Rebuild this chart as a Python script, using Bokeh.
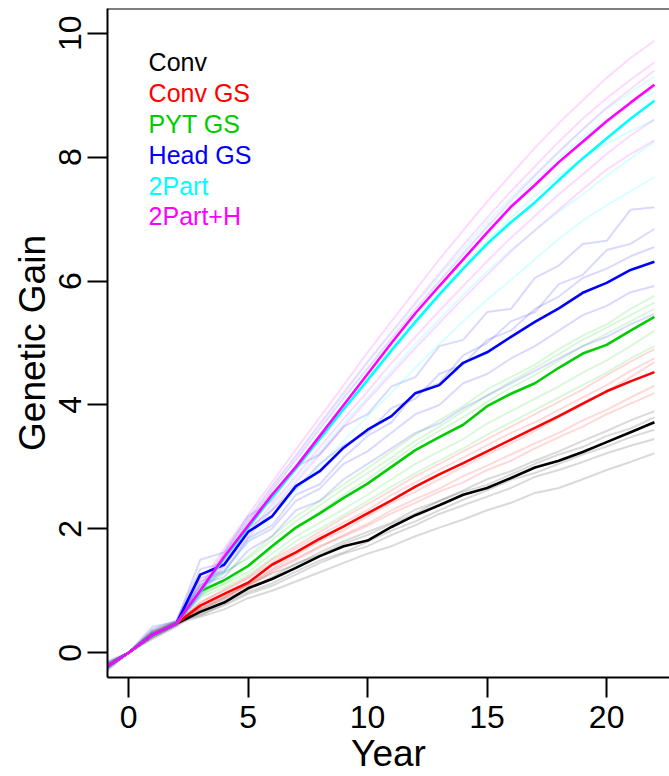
from bokeh.plotting import figure
from bokeh.models import Range1d, FixedTicker, Span, Label
from bokeh.embed import file_html
from bokeh.resources import INLINE

# Simulated breeding programs: mean genetic gain per year plus individual replicates
years = list(range(-1, 23))

programs = ["Conv", "Conv GS", "PYT GS", "Head GS", "2Part", "2Part+H"]
colors = ["#000000", "#FF0000", "#00CD00", "#0000FF", "#00FFFF", "#FF00FF"]

conv_mean = [-0.25, 0, 0.29, 0.47, 0.66, 0.81, 1.04, 1.19, 1.37, 1.56, 1.72, 1.81,
             2.03, 2.22, 2.38, 2.55, 2.66, 2.82, 2.99, 3.10, 3.24, 3.40, 3.56, 3.72]
conv_gs_mean = [-0.25, 0, 0.29, 0.47, 0.76, 0.95, 1.13, 1.42, 1.62, 1.84, 2.04, 2.25,
                2.46, 2.68, 2.88, 3.06, 3.25, 3.44, 3.63, 3.82, 4.02, 4.22, 4.38, 4.53]
pyt_gs_mean = [-0.25, 0, 0.29, 0.47, 0.99, 1.17, 1.40, 1.72, 2.02, 2.25, 2.50, 2.73,
               3.00, 3.27, 3.48, 3.68, 3.98, 4.18, 4.35, 4.60, 4.83, 4.97, 5.20, 5.42]
head_gs_mean = [-0.25, 0, 0.29, 0.47, 1.26, 1.42, 1.95, 2.20, 2.69, 2.93, 3.31, 3.60,
                3.82, 4.19, 4.32, 4.68, 4.85, 5.10, 5.34, 5.56, 5.81, 5.97, 6.18, 6.31]
two_part_mean = [-0.25, 0, 0.29, 0.47, 0.98, 1.52, 2.02, 2.51, 2.97, 3.45, 3.93, 4.40,
                 4.88, 5.34, 5.78, 6.20, 6.60, 6.95, 7.27, 7.63, 7.98, 8.30, 8.62, 8.91]
two_part_h_mean = [-0.25, 0, 0.29, 0.47, 1.00, 1.55, 2.05, 2.55, 3.00, 3.50, 4.00, 4.50,
                   5.00, 5.48, 5.92, 6.35, 6.78, 7.20, 7.55, 7.92, 8.25, 8.58, 8.88, 9.17]

conv_reps = [
    [-0.18, 0, 0.33, 0.49, 0.62, 0.76, 0.95, 1.08, 1.26, 1.45, 1.60, 1.72, 1.90, 2.06, 2.24, 2.38, 2.52, 2.66, 2.84, 2.95, 3.08, 3.22, 3.34, 3.45],
    [-0.30, 0, 0.25, 0.44, 0.70, 0.88, 1.10, 1.28, 1.42, 1.62, 1.80, 1.95, 2.10, 2.31, 2.45, 2.62, 2.80, 2.93, 3.10, 3.25, 3.42, 3.58, 3.75, 3.90],
    [-0.22, 0, 0.36, 0.50, 0.60, 0.79, 0.98, 1.12, 1.31, 1.49, 1.62, 1.79, 1.97, 2.12, 2.30, 2.47, 2.62, 2.79, 2.90, 3.05, 3.20, 3.33, 3.48, 3.60],
    [-0.27, 0, 0.22, 0.42, 0.68, 0.85, 1.02, 1.22, 1.44, 1.58, 1.76, 1.90, 2.08, 2.25, 2.45, 2.60, 2.71, 2.88, 3.05, 3.20, 3.32, 3.50, 3.62, 3.80],
    [-0.20, 0, 0.30, 0.47, 0.58, 0.70, 0.88, 1.00, 1.15, 1.30, 1.45, 1.60, 1.72, 1.88, 2.02, 2.15, 2.30, 2.42, 2.58, 2.66, 2.80, 2.95, 3.08, 3.22],
]
conv_gs_reps = [
    [-0.22, 0, 0.31, 0.48, 0.80, 1.02, 1.22, 1.50, 1.72, 1.95, 2.18, 2.40, 2.62, 2.85, 3.05, 3.25, 3.45, 3.65, 3.85, 4.05, 4.25, 4.48, 4.70, 4.90],
    [-0.28, 0, 0.27, 0.46, 0.72, 0.90, 1.10, 1.35, 1.58, 1.80, 1.98, 2.20, 2.42, 2.60, 2.80, 3.00, 3.20, 3.38, 3.58, 3.80, 4.00, 4.22, 4.45, 4.69],
    [-0.20, 0, 0.33, 0.50, 0.70, 0.88, 1.05, 1.30, 1.50, 1.70, 1.90, 2.08, 2.30, 2.48, 2.65, 2.85, 3.02, 3.20, 3.38, 3.55, 3.75, 3.92, 4.12, 4.31],
    [-0.26, 0, 0.24, 0.45, 0.74, 0.92, 1.08, 1.33, 1.52, 1.72, 1.88, 2.05, 2.25, 2.42, 2.60, 2.75, 2.95, 3.10, 3.30, 3.48, 3.65, 3.85, 4.02, 4.19],
    [-0.24, 0, 0.30, 0.47, 0.82, 1.00, 1.20, 1.45, 1.68, 1.90, 2.10, 2.30, 2.55, 2.75, 2.95, 3.15, 3.35, 3.55, 3.72, 3.92, 4.12, 4.32, 4.55, 4.75],
]
pyt_gs_reps = [
    [-0.20, 0, 0.32, 0.49, 1.05, 1.28, 1.55, 1.88, 2.20, 2.45, 2.72, 2.98, 3.25, 3.52, 3.75, 3.98, 4.25, 4.45, 4.65, 4.90, 5.12, 5.30, 5.55, 5.76],
    [-0.27, 0, 0.26, 0.45, 0.92, 1.12, 1.38, 1.70, 2.00, 2.28, 2.55, 2.80, 3.08, 3.35, 3.58, 3.80, 4.05, 4.28, 4.48, 4.72, 4.95, 5.15, 5.35, 5.55],
    [-0.23, 0, 0.31, 0.48, 0.95, 1.10, 1.30, 1.60, 1.88, 2.10, 2.32, 2.55, 2.80, 3.05, 3.25, 3.45, 3.70, 3.90, 4.10, 4.30, 4.52, 4.72, 4.95, 5.20],
    [-0.30, 0, 0.25, 0.46, 0.90, 1.05, 1.25, 1.52, 1.80, 2.00, 2.22, 2.45, 2.68, 2.90, 3.10, 3.30, 3.52, 3.72, 3.92, 4.12, 4.32, 4.52, 4.75, 4.95],
    [-0.21, 0, 0.34, 0.50, 1.08, 1.30, 1.52, 1.82, 2.12, 2.38, 2.65, 2.90, 3.15, 3.42, 3.65, 3.90, 4.15, 4.38, 4.60, 4.82, 5.05, 5.25, 5.45, 5.65],
]
head_gs_reps = [
    [-0.15, 0, 0.42, 0.50, 1.50, 1.62, 2.20, 2.45, 3.00, 3.20, 3.65, 3.85, 4.30, 4.45, 4.95, 5.05, 5.50, 5.55, 6.05, 6.25, 6.60, 6.65, 7.15, 7.19],
    [-0.33, 0, 0.25, 0.44, 1.15, 1.30, 1.85, 2.05, 2.55, 2.72, 3.15, 3.50, 3.72, 4.20, 4.35, 4.80, 5.00, 5.35, 5.50, 5.95, 6.10, 6.50, 6.60, 6.84],
    [-0.20, 0, 0.38, 0.52, 1.35, 1.45, 2.00, 2.30, 2.65, 3.05, 3.35, 3.55, 3.95, 4.10, 4.50, 4.65, 5.05, 5.20, 5.55, 5.75, 6.05, 6.20, 6.40, 6.55],
    [-0.28, 0, 0.30, 0.45, 1.20, 1.32, 1.80, 2.00, 2.45, 2.65, 3.05, 3.25, 3.55, 3.85, 4.00, 4.35, 4.50, 4.75, 4.95, 5.20, 5.45, 5.60, 5.82, 5.92],
    [-0.24, 0, 0.34, 0.48, 1.10, 1.22, 1.65, 1.88, 2.30, 2.45, 2.80, 3.05, 3.30, 3.55, 3.70, 3.95, 4.15, 4.35, 4.55, 4.75, 4.95, 5.10, 5.30, 5.47],
]
two_part_reps = [
    [-0.22, 0, 0.30, 0.48, 1.05, 1.62, 2.15, 2.68, 3.18, 3.68, 4.18, 4.68, 5.15, 5.62, 6.08, 6.52, 6.95, 7.35, 7.72, 8.10, 8.45, 8.78, 9.05, 9.30],
    [-0.26, 0, 0.27, 0.46, 0.92, 1.42, 1.88, 2.35, 2.80, 3.25, 3.70, 4.12, 4.55, 4.98, 5.38, 5.78, 6.15, 6.50, 6.82, 7.12, 7.40, 7.70, 7.98, 8.25],
    [-0.24, 0, 0.31, 0.47, 0.88, 1.35, 1.78, 2.20, 2.62, 3.02, 3.42, 3.82, 4.20, 4.60, 4.98, 5.35, 5.70, 6.02, 6.35, 6.68, 6.98, 7.22, 7.45, 7.68],
    [-0.20, 0, 0.29, 0.49, 1.00, 1.55, 2.05, 2.55, 3.02, 3.50, 3.98, 4.45, 4.92, 5.38, 5.82, 6.25, 6.65, 7.02, 7.38, 7.70, 7.98, 8.22, 8.42, 8.60],
    [-0.28, 0, 0.26, 0.45, 1.02, 1.58, 2.10, 2.62, 3.10, 3.60, 4.10, 4.58, 5.05, 5.52, 5.98, 6.42, 6.85, 7.25, 7.62, 7.98, 8.32, 8.62, 8.85, 9.05],
]
two_part_h_reps = [
    [-0.20, 0, 0.32, 0.49, 1.10, 1.68, 2.22, 2.75, 3.28, 3.80, 4.32, 4.85, 5.35, 5.85, 6.35, 6.82, 7.28, 7.72, 8.15, 8.55, 8.92, 9.28, 9.60, 9.88],
    [-0.25, 0, 0.28, 0.47, 1.05, 1.62, 2.15, 2.68, 3.18, 3.70, 4.20, 4.70, 5.18, 5.65, 6.12, 6.58, 7.02, 7.45, 7.85, 8.25, 8.62, 8.95, 9.25, 9.53],
    [-0.22, 0, 0.30, 0.48, 1.02, 1.58, 2.10, 2.62, 3.12, 3.62, 4.12, 4.60, 5.08, 5.55, 6.00, 6.45, 6.88, 7.30, 7.70, 8.08, 8.45, 8.80, 9.10, 9.40],
    [-0.27, 0, 0.27, 0.46, 0.95, 1.45, 1.92, 2.40, 2.85, 3.32, 3.78, 4.22, 4.68, 5.10, 5.52, 5.92, 6.32, 6.70, 7.05, 7.40, 7.72, 8.05, 8.35, 8.61],
    [-0.23, 0, 0.31, 0.48, 0.92, 1.40, 1.85, 2.30, 2.75, 3.20, 3.65, 4.08, 4.50, 4.92, 5.32, 5.72, 6.10, 6.48, 6.82, 7.15, 7.48, 7.80, 8.05, 8.27],
]

means = [conv_mean, conv_gs_mean, pyt_gs_mean, head_gs_mean, two_part_mean, two_part_h_mean]
replicates = [conv_reps, conv_gs_reps, pyt_gs_reps, head_gs_reps, two_part_reps, two_part_h_reps]

x_ticks = [0, 5, 10, 15, 20]
y_ticks = [0, 2, 4, 6, 8, 10]

FONT = "Liberation Sans"

p = figure(width=669, height=776, output_backend="svg", toolbar_location=None,
           x_range=Range1d(-0.88, 22.63), y_range=Range1d(-0.4, 10.4),
           min_border_left=107, min_border_right=0, min_border_top=8, min_border_bottom=98)
p.outline_line_color = None
p.grid.visible = False
p.background_fill_color = "white"
p.border_fill_color = "white"

# faint replicate runs underneath
for reps, col in zip(replicates, colors):
    for r in reps:
        p.line(years, r, line_color=col, line_alpha=0.15, line_width=2)

# program means on top
for m, col in zip(means, colors):
    p.line(years, m, line_color=col, line_width=2.6)

# top edge of the plot box
p.add_layout(Span(location=10.4, dimension="width", line_color="black", line_width=2))

for ax in (p.xaxis[0], p.yaxis[0]):
    ax.axis_line_width = 2
    ax.major_tick_line_width = 2
    ax.major_tick_in = 0
    ax.major_tick_out = 20
    ax.minor_tick_line_color = None
    ax.major_label_text_font = FONT
    ax.major_label_text_font_size = "32px"
    ax.major_label_text_color = "black"
    ax.axis_label_text_font = FONT
    ax.axis_label_text_font_size = "37px"
    ax.axis_label_text_font_style = "normal"
    ax.axis_label_text_color = "black"

p.xaxis.ticker = FixedTicker(ticks=x_ticks)
p.yaxis.ticker = FixedTicker(ticks=y_ticks)
p.xaxis.axis_label = "Year"
p.yaxis.axis_label = "Genetic Gain"
p.yaxis.major_label_orientation = "vertical"
p.xaxis.major_label_standoff = 8
p.yaxis.major_label_standoff = 6
p.xaxis.axis_label_standoff = 2
p.yaxis.axis_label_standoff = 4

# legend as coloured text entries
for i, (name, col) in enumerate(zip(programs, colors)):
    p.add_layout(Label(x=0.84, y=9.53 - 0.497 * i, text=name, text_color=col,
                       text_font=FONT, text_font_size="25px", text_baseline="middle"))

open("out.html", "w").write(file_html(p, INLINE))
